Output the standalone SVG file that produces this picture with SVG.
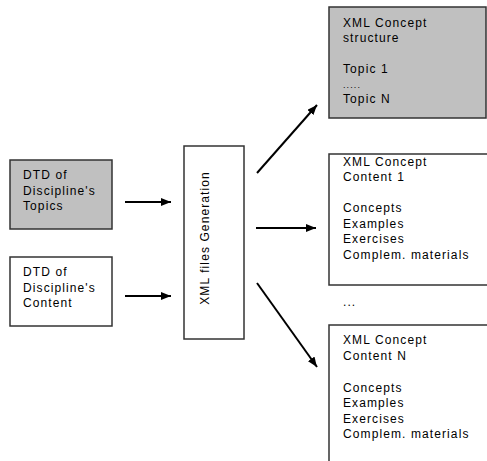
<svg xmlns="http://www.w3.org/2000/svg" width="487" height="461" viewBox="0 0 487 461">
<defs>
<style>
.box{stroke:#333;stroke-width:1.5}
.gray{fill:#c0c0c0}
.white{fill:#fff}
text{font-family:"Liberation Sans",Arial,sans-serif;font-size:12px;letter-spacing:1.1px;fill:#000}
.conn line{stroke:#000;stroke-width:2}
</style>
<marker id="ah" viewBox="0 0 10 8" refX="10" refY="4" markerWidth="10" markerHeight="8" markerUnits="userSpaceOnUse" orient="auto">
<path d="M0,0 L10,4 L0,8 Z" fill="#000"/>
</marker>
</defs>
<rect width="487" height="461" fill="#fff"/>
<g id="dtd-topics">
<rect class="box gray" x="10" y="160" width="102" height="69"/>
<text x="23" y="179">DTD of</text>
<text x="23" y="195">Discipline's</text>
<text x="23" y="210">Topics</text>
</g>
<g id="dtd-content">
<rect class="box white" x="10" y="257" width="102" height="69"/>
<text x="23" y="276">DTD of</text>
<text x="23" y="292">Discipline's</text>
<text x="23" y="307">Content</text>
</g>
<g id="generation">
<rect class="box white" x="184" y="146" width="60" height="193"/>
<text transform="translate(209,238) rotate(-90)" text-anchor="middle">XML files Generation</text>
</g>
<g id="structure">
<rect class="box gray" x="329" y="7" width="157" height="111"/>
<text x="343" y="27">XML Concept</text>
<text x="343" y="42">structure</text>
<text x="343" y="73">Topic 1</text>
<text x="343" y="88" style="font-size:9px">.....</text>
<text x="343" y="103">Topic N</text>
</g>
<g id="content-1">
<rect class="box white" x="329" y="154" width="170" height="131"/>
<text x="343" y="165.5">XML Concept</text>
<text x="343" y="181">Content 1</text>
<text x="343" y="212">Concepts</text>
<text x="343" y="227.5">Examples</text>
<text x="343" y="243">Exercises</text>
<text x="343" y="258.5">Complem. materials</text>
</g>
<g id="ellipsis">
<text x="343" y="306">...</text>
</g>
<g id="content-n">
<rect class="box white" x="329" y="325" width="170" height="150"/>
<text x="343" y="344">XML Concept</text>
<text x="343" y="360">Content N</text>
<text x="343" y="391.5">Concepts</text>
<text x="343" y="407">Examples</text>
<text x="343" y="422.5">Exercises</text>
<text x="343" y="438">Complem. materials</text>
</g>
<g id="connectors" class="conn">
<line x1="125" y1="202" x2="171" y2="202" marker-end="url(#ah)"/>
<line x1="125" y1="296" x2="171" y2="296" marker-end="url(#ah)"/>
<line x1="257" y1="173" x2="317" y2="105" marker-end="url(#ah)"/>
<line x1="256" y1="228" x2="316" y2="228" marker-end="url(#ah)"/>
<line x1="257" y1="283" x2="317" y2="367" marker-end="url(#ah)"/>
</g>
</svg>
